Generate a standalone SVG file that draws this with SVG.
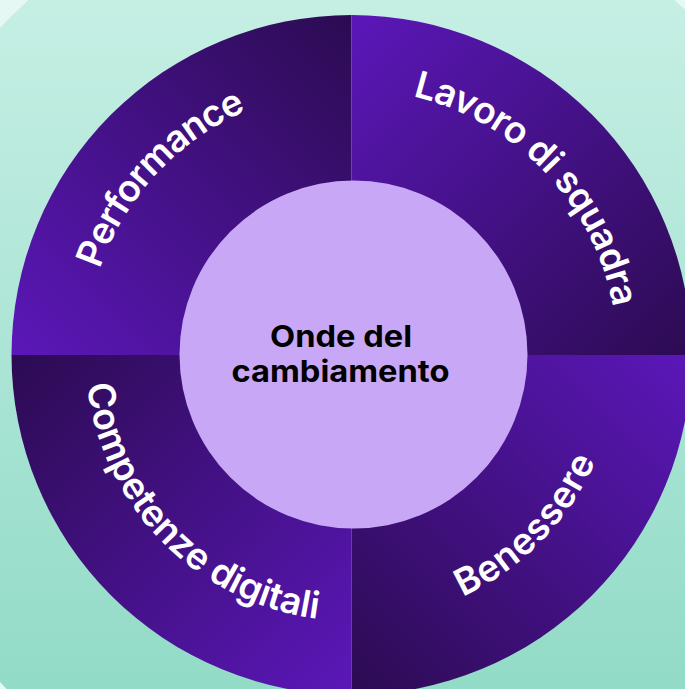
<svg xmlns="http://www.w3.org/2000/svg" xmlns:xlink="http://www.w3.org/1999/xlink" width="685" height="689" viewBox="0 0 685 689">
  <style>
    .lbl { font-family: Inter, "Liberation Sans", sans-serif; font-weight: 600; font-size: 37px; fill: #ffffff; }
    .ctr { font-family: Inter, "Liberation Sans", sans-serif; font-weight: 700; font-size: 30px; fill: #000000; text-anchor: middle; }
  </style>
  <defs>
    <linearGradient id="bg" x1="0" y1="0" x2="0" y2="689" gradientUnits="userSpaceOnUse">
      <stop offset="0" stop-color="#c6efe4"/>
      <stop offset="1" stop-color="#92dbc7"/>
    </linearGradient>
    <linearGradient id="gTL" x1="11" y1="355" x2="351" y2="15" gradientUnits="userSpaceOnUse">
      <stop offset="0" stop-color="#5b17b9"/>
      <stop offset="1" stop-color="#2c0b52"/>
    </linearGradient>
    <linearGradient id="gTR" x1="351" y1="15" x2="691" y2="355" gradientUnits="userSpaceOnUse">
      <stop offset="0" stop-color="#5b17b9"/>
      <stop offset="1" stop-color="#2c0b52"/>
    </linearGradient>
    <linearGradient id="gBR" x1="691" y1="355" x2="351" y2="695" gradientUnits="userSpaceOnUse">
      <stop offset="0" stop-color="#5b17b9"/>
      <stop offset="1" stop-color="#2c0b52"/>
    </linearGradient>
    <linearGradient id="gBL" x1="351" y1="695" x2="11" y2="355" gradientUnits="userSpaceOnUse">
      <stop offset="0" stop-color="#5b17b9"/>
      <stop offset="1" stop-color="#2c0b52"/>
    </linearGradient>
    <path id="pPerf" d="M85.7,365.2 A266,266 0 0 1 341.3,89.2"/>
    <path id="pLav" d="M358.5,89.1 A266,266 0 0 1 617.4,362.0"/>
    <path id="pBen" d="M354.3,621 A266,266 0 0 0 617.5,352.2"/>
    <path id="pComp" d="M85.5,352.7 A266,266 0 0 0 349.2,621.0"/>
  </defs>

  <rect x="0" y="0" width="685" height="689" fill="#e6f8f3"/>
  <circle cx="351.5" cy="355" r="480" fill="url(#bg)"/>

  <g id="performance">
    <path d="M351.5,355 L11.5,355 A340,340 0 0 1 351.5,15 Z" fill="url(#gTL)"/>
    <text class="lbl" text-anchor="middle"><textPath xlink:href="#pPerf" href="#pPerf" startOffset="50%" textLength="222" lengthAdjust="spacing">Performance</textPath></text>
  </g>
  <g id="lavoro-di-squadra">
    <path d="M351.5,355 L351.5,15 A340,340 0 0 1 691.5,355 Z" fill="url(#gTR)"/>
    <text class="lbl" text-anchor="middle"><textPath xlink:href="#pLav" href="#pLav" startOffset="50%" textLength="308" lengthAdjust="spacing">Lavoro di squadra</textPath></text>
  </g>
  <g id="benessere">
    <path d="M351.5,355 L691.5,355 A340,340 0 0 1 351.5,695 Z" fill="url(#gBR)"/>
    <text class="lbl" text-anchor="middle"><textPath xlink:href="#pBen" href="#pBen" startOffset="50%" textLength="194" lengthAdjust="spacing">Benessere</textPath></text>
  </g>
  <g id="competenze-digitali">
    <path d="M351.5,355 L351.5,695 A340,340 0 0 1 11.5,355 Z" fill="url(#gBL)"/>
    <text class="lbl" text-anchor="middle"><textPath xlink:href="#pComp" href="#pComp" startOffset="50%" textLength="354" lengthAdjust="spacing">Competenze digitali</textPath></text>
  </g>

  <g id="onde-del-cambiamento">
    <circle cx="353.5" cy="354.5" r="174" fill="#c8a8f6"/>
    <text class="ctr"><tspan x="341" y="347" textLength="142" lengthAdjust="spacingAndGlyphs">Onde del</tspan><tspan x="340.5" y="382" textLength="218" lengthAdjust="spacingAndGlyphs">cambiamento</tspan></text>
  </g>
</svg>
